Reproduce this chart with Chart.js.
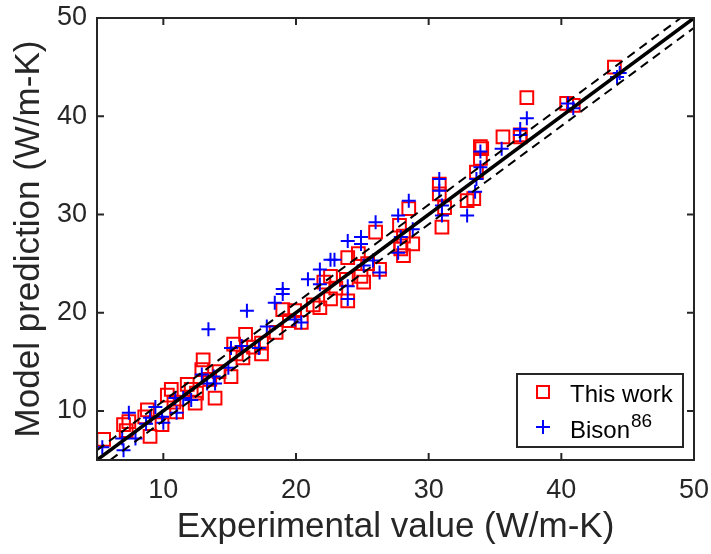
<!DOCTYPE html>
<html>
<head>
<meta charset="utf-8">
<script src="https://cdn.jsdelivr.net/npm/chart.js@4.4.1/dist/chart.umd.min.js"></script>
<style>
  html, body { margin: 0; padding: 0; background: #fff; }
  #wrap { width: 711px; height: 554px; }
</style>
</head>
<body>
<div id="wrap"><canvas id="chart" width="711" height="554"></canvas></div>
<script>
// ---- data ----
const thisWork = [
  [5.5,7.1],[7.0,8.6],[7.4,8.9],[7.2,8.0],[8.8,10.1],[9.0,7.4],[8.6,9.4],[9.9,8.6],
  [10.3,11.6],[10.6,12.2],[11.0,9.9],[10.8,10.9],[11.8,12.7],[12.1,12.2],[12.4,10.8],
  [12.5,11.8],[13.0,15.2],[12.9,14.2],[13.5,13.2],[13.9,11.3],[14.2,14.0],[15.1,13.5],
  [15.3,16.8],[15.5,15.8],[16.2,17.8],[16.0,15.4],[16.8,16.5],[17.4,16.9],[17.4,15.8],
  [18.5,18.0],[19.0,20.3],[19.5,19.2],[19.9,20.2],[20.4,19.0],[21.3,20.8],[21.8,20.5],
  [22.1,23.1],[22.6,21.4],[22.6,23.7],[23.0,22.5],[23.8,23.4],[23.9,21.2],[23.9,25.6],
  [24.7,26.0],[24.9,23.7],[25.1,23.1],[25.4,25.0],[26.0,28.2],[26.3,24.4],[27.8,28.9],
  [27.9,26.5],[28.1,27.8],[27.9,26.8],[28.8,27.0],[28.1,25.8],[28.5,30.6],[30.8,33.1],
  [30.8,32.1],[31.0,28.7],[31.2,30.7],[32.9,31.4],[33.4,31.6],[33.6,34.3],[33.9,35.7],
  [33.9,36.9],[34.0,36.7],[35.6,37.9],[36.9,37.9],[36.9,38.1],[37.4,41.9],[40.4,41.3],
  [40.9,41.1],[44.0,45.0]
];
const bison = [
  [5.4,6.3],[7.0,6.0],[6.9,7.2],[7.4,9.8],[7.9,7.2],[8.7,8.7],[9.0,9.3],[10.0,8.8],
  [9.9,9.4],[9.4,10.4],[11.0,9.8],[10.9,11.3],[11.5,11.3],[12.1,11.1],[12.9,13.7],
  [13.3,12.8],[13.4,18.3],[13.9,12.8],[13.8,13.5],[14.9,14.4],[15.1,16.4],[16.3,20.2],
  [15.9,16.6],[17.2,16.4],[17.8,18.6],[18.4,21.0],[19.0,21.9],[19.0,22.4],[19.9,19.3],
  [20.4,19.0],[20.9,23.4],[21.8,24.4],[22.6,25.4],[22.9,25.4],[21.8,22.9],[23.9,27.3],
  [23.9,22.7],[23.9,21.4],[24.9,27.7],[24.9,27.0],[25.1,24.8],[25.8,25.3],[26.0,29.2],
  [26.3,24.1],[27.7,29.9],[27.7,26.1],[28.5,31.4],[27.9,27.7],[28.8,28.5],[30.8,33.6],
  [30.8,32.4],[31.0,30.9],[31.0,29.9],[32.9,29.9],[33.5,32.3],[33.6,33.6],[33.9,34.8],
  [33.9,36.4],[35.5,36.7],[36.9,38.1],[36.9,38.7],[37.4,39.8],[40.5,41.3],[40.9,40.8],
  [44.2,44.0],[44.4,44.4]
];
const axisMin = 5, axisMax = 50;
const xTicks = [10, 20, 30, 40, 50];
const yTicks = [10, 20, 30, 40, 50];
const band = 1; // dashed lines at y = x ± 1
const legendLabels = ["This work", "Bison"];
const legendSup = ["", "86"];

// ---- style ----
const FONT = 'Helvetica, "Liberation Sans", Arial, sans-serif';
const ink = "#262626";
const red = "#ff0000", blue = "#0000ff";

const pts = arr => arr.map(([x, y]) => ({ x, y }));
const fixTicks = list => scale => { scale.ticks = list.map(v => ({ value: v })); };
// no room reserved for overhanging tick labels: plot box is pinned
const pin = (prop, size) => s => {
  s[prop] = size;
  s.paddingLeft = s.paddingRight = s.paddingTop = s.paddingBottom = 0;
};

// frame with inward ticks + legend (MATLAB-ish box)
const framePlugin = {
  id: "frame",
  afterDatasetsDraw(chart) {
    const { ctx, chartArea: a, scales: { x, y } } = chart;
    ctx.save();
    ctx.strokeStyle = ink;
    ctx.lineWidth = 2;
    ctx.strokeRect(a.left, a.top, a.right - a.left, a.bottom - a.top);
    const tl = 7;
    ctx.beginPath();
    xTicks.forEach(v => {
      const px = x.getPixelForValue(v);
      ctx.moveTo(px, a.bottom); ctx.lineTo(px, a.bottom - tl);
      ctx.moveTo(px, a.top); ctx.lineTo(px, a.top + tl);
    });
    yTicks.forEach(v => {
      const py = y.getPixelForValue(v);
      ctx.moveTo(a.left, py); ctx.lineTo(a.left + tl, py);
      ctx.moveTo(a.right, py); ctx.lineTo(a.right - tl, py);
    });
    ctx.stroke();

    // legend
    const L = 517, T = 374, W = 166, H = 73;
    ctx.fillStyle = "#fff";
    ctx.fillRect(L, T, W, H);
    ctx.lineWidth = 2;
    ctx.strokeStyle = ink;
    ctx.strokeRect(L, T, W, H);
    ctx.strokeStyle = red;
    ctx.strokeRect(543 - 6, 392 - 6, 12, 12);
    ctx.strokeStyle = blue;
    ctx.beginPath();
    ctx.moveTo(543 - 7, 427); ctx.lineTo(543 + 7, 427);
    ctx.moveTo(543, 427 - 7); ctx.lineTo(543, 427 + 7);
    ctx.stroke();
    ctx.fillStyle = "#000";
    ctx.textBaseline = "alphabetic";
    ctx.font = "24px " + FONT;
    ctx.fillText(legendLabels[0], 570, 402);
    ctx.fillText(legendLabels[1], 570, 438);
    const w = ctx.measureText(legendLabels[1]).width;
    ctx.font = "19px " + FONT;
    ctx.fillText(legendSup[1], 570 + w + 1, 427);
    ctx.restore();
  }
};

Chart.defaults.font.family = FONT;
Chart.defaults.color = ink;

new Chart(document.getElementById("chart"), {
  type: "scatter",
  data: {
    datasets: [
      { label: "y=x", data: pts([[axisMin, axisMin], [axisMax, axisMax]]), showLine: true,
        borderColor: "#000", borderWidth: 3.5, pointRadius: 0, order: 0 },
      { label: "upper", data: pts([[axisMin, axisMin + band], [axisMax - band, axisMax]]), showLine: true,
        borderColor: "#000", borderWidth: 2, borderDash: [9, 6], pointRadius: 0, order: 0 },
      { label: "lower", data: pts([[axisMin + band, axisMin], [axisMax, axisMax - band]]), showLine: true,
        borderColor: "#000", borderWidth: 2, borderDash: [9, 6], pointRadius: 0, order: 0 },
      { label: "Bison", data: pts(bison), pointStyle: "cross", pointRadius: 7,
        borderColor: blue, backgroundColor: blue, pointBorderWidth: 2, order: 1 },
      { label: "This work", data: pts(thisWork), pointStyle: "rect", pointRadius: 9,
        borderColor: red, backgroundColor: "rgba(0,0,0,0)", pointBorderWidth: 2, order: 2 }
    ]
  },
  options: {
    responsive: false,
    animation: false,
    devicePixelRatio: 1,
    layout: { padding: { left: 0, top: 18, right: 17, bottom: 0 } },
    plugins: { legend: { display: false }, tooltip: { enabled: false } },
    scales: {
      x: {
        type: "linear", min: axisMin, max: axisMax,
        afterBuildTicks: fixTicks(xTicks),
        afterFit: pin("height", 94),
        grid: { display: false, drawTicks: false },
        border: { display: false },
        ticks: { padding: 14, font: { size: 27 }, color: ink, maxRotation: 0 },
        title: { display: true, text: "Experimental value (W/m-K)", color: ink,
                 font: { size: 35, lineHeight: 1 }, padding: { bottom: 9 } }
      },
      y: {
        type: "linear", min: axisMin, max: axisMax,
        afterBuildTicks: fixTicks(yTicks),
        afterFit: pin("width", 97),
        grid: { display: false, drawTicks: false },
        border: { display: false },
        ticks: { padding: 10, font: { size: 27 }, color: ink },
        title: { display: true, text: "Model prediction (W/m-K)", color: ink,
                 font: { size: 35, lineHeight: 1 }, padding: { top: 12 } }
      }
    }
  },
  plugins: [framePlugin]
});
</script>
</body>
</html>
